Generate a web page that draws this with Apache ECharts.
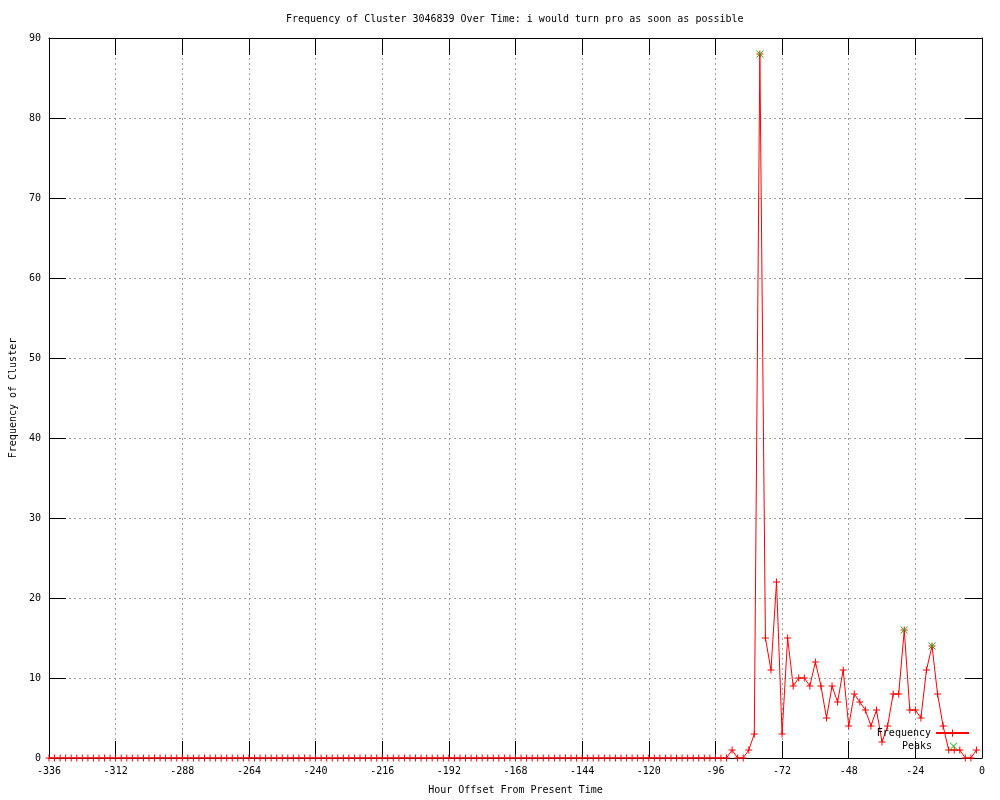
<!DOCTYPE html>
<html>
<head>
<meta charset="utf-8">
<script src="https://cdn.jsdelivr.net/npm/echarts@6/dist/echarts.min.js"></script>
<style>html,body{margin:0;padding:0;background:#fff}#c{width:1000px;height:800px}</style>
</head>
<body>
<div id="c"></div>
<script>
// Hour offsets: every 2 hours from -336 to -2
var hoursStart = -336, hoursStep = 2;
// Frequency values (one per 2-hour bin, from -336 upward)
var frequency = [
  0,0,0,0,0,0,0,0,0,0,0,0,0,0,0,0,0,0,0,0,
  0,0,0,0,0,0,0,0,0,0,0,0,0,0,0,0,0,0,0,0,
  0,0,0,0,0,0,0,0,0,0,0,0,0,0,0,0,0,0,0,0,
  0,0,0,0,0,0,0,0,0,0,0,0,0,0,0,0,0,0,0,0,
  0,0,0,0,0,0,0,0,0,0,0,0,0,0,0,0,0,0,0,0,
  0,0,0,0,0,0,0,0,0,0,0,0,0,0,0,0,0,0,0,0,
  // -96 .. -2
  0,0,0,1,0,0,1,3,88,15,11,22,3,15,9,10,10,9,12,9,
  5,9,7,11,4,8,7,6,4,6,2,4,8,8,16,6,6,5,11,14,
  8,4,1,1,1,0,0,1
];
var peakHours = [-80, -28, -18];
var peakValues = [88, 16, 14];
var xTicks = {min: -336, max: 0, interval: 24};
var yTicks = {min: 0, max: 90, interval: 10};

var freqData = frequency.map(function (v, i) { return [hoursStart + i * hoursStep, v]; });
var peakData = peakHours.map(function (h, i) { return [h, peakValues[i]]; });

var FONT = 'DejaVu Sans Mono';
var plusPath = 'path://M0,3.5H7M3.5,0V7';
var crossPath = 'path://M0,0L7,7M7,0L0,7';

var chart = echarts.init(document.getElementById('c'), null, {renderer: 'canvas'});
var tickStyle = {show: true, inside: true, length: 17, lineStyle: {color: '#000', width: 1}};
var axisLine = {show: true, onZero: false, lineStyle: {color: '#000', width: 1}};
var split = {show: true, lineStyle: {color: '#a0a0a0', type: [2, 3], width: 1}};
var lbl = {color: '#000', fontFamily: FONT, fontSize: 10, margin: 8};

chart.setOption({
  animation: false,
  backgroundColor: '#fff',
  title: {
    text: 'Frequency of Cluster 3046839 Over Time: i would turn pro as soon as possible',
    left: 286, top: 14, padding: 0,
    textStyle: {fontFamily: FONT, fontSize: 10, fontWeight: 'normal', color: '#000'}
  },
  grid: {left: 49, right: 18, top: 38, bottom: 40, containLabel: false},
  legend: [
    {
      data: ['Frequency'], orient: 'vertical', align: 'right', right: 30, top: 727,
      padding: 0, itemWidth: 33, itemHeight: 9, itemGap: 0,
      textStyle: {fontFamily: FONT, fontSize: 10, color: '#000'},
      itemStyle: {borderWidth: 1}
    },
    {
      data: ['Peaks'], orient: 'vertical', align: 'right', right: 30, top: 740,
      padding: 0, itemWidth: 33, itemHeight: 9, itemGap: 0,
      textStyle: {fontFamily: FONT, fontSize: 10, color: '#000'},
      itemStyle: {borderWidth: 1},
      lineStyle: {opacity: 0, width: 0}
    }
  ],
  xAxis: [
    {
      type: 'value', position: 'bottom', min: xTicks.min, max: xTicks.max, interval: xTicks.interval,
      name: 'Hour Offset From Present Time', nameLocation: 'middle', nameGap: 27,
      nameTextStyle: {fontFamily: FONT, fontSize: 10, color: '#000'},
      axisLine: axisLine, axisTick: tickStyle, axisLabel: lbl, splitLine: split
    },
    {
      type: 'value', position: 'top', min: xTicks.min, max: xTicks.max, interval: xTicks.interval,
      axisLine: axisLine, axisTick: tickStyle, axisLabel: {show: false}, splitLine: {show: false}
    }
  ],
  yAxis: [
    {
      type: 'value', position: 'left', min: yTicks.min, max: yTicks.max, interval: yTicks.interval,
      name: 'Frequency of Cluster', nameLocation: 'middle', nameGap: 30,
      nameTextStyle: {fontFamily: FONT, fontSize: 10, color: '#000'},
      axisLine: axisLine, axisTick: tickStyle, axisLabel: lbl, splitLine: split
    },
    {
      type: 'value', position: 'right', min: yTicks.min, max: yTicks.max, interval: yTicks.interval,
      axisLine: axisLine, axisTick: tickStyle, axisLabel: {show: false}, splitLine: {show: false}
    }
  ],
  series: [
    {
      name: 'Frequency', type: 'line', xAxisIndex: 0, yAxisIndex: 0, data: freqData,
      symbol: plusPath, symbolSize: 7, showAllSymbol: true,
      lineStyle: {color: '#ff0000', width: 1},
      itemStyle: {color: 'none', borderColor: '#ff0000', borderWidth: 1},
      emphasis: {disabled: true}, z: 3
    },
    {
      name: 'Peaks', type: 'line', xAxisIndex: 0, yAxisIndex: 0, data: peakData,
      symbol: crossPath, symbolSize: 7, showAllSymbol: true,
      lineStyle: {width: 0, opacity: 0, color: '#00c000'},
      itemStyle: {color: 'none', borderColor: '#00c000', borderWidth: 1},
      emphasis: {disabled: true}, z: 4
    }
  ]
});
</script>
</body>
</html>
